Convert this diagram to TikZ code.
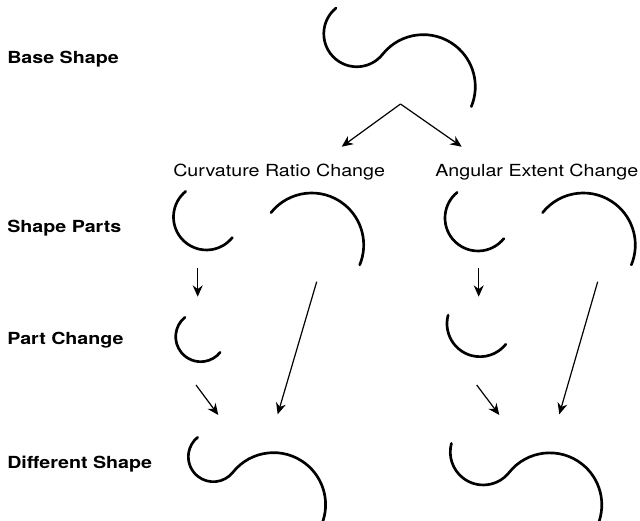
\documentclass[tikz,border=0pt]{standalone}
\usepackage{fontspec}
\newfontfamily\heros{TeX Gyre Heros}[FakeStretch=1.18]
\usepackage{tikz}
\usetikzlibrary{arrows.meta}
\tikzset{
  rowlabel/.style={anchor=base west,inner sep=0pt,font=\heros\fontsize{12.5}{15}\selectfont\bfseries},
  collabel/.style={anchor=base west,inner sep=0pt,font=\heros\fontsize{12.5}{15}\selectfont},
  stroke/.style={line width=2pt,line cap=round},
  myarrow/.style={-{Stealth[length=8.5pt,width=7.5pt]},line width=0.9pt},
}

\begin{document}
\begin{tikzpicture}[x=0.75pt,y=0.75pt]
  \useasboundingbox (0,0) rectangle (640,521);
  % row labels
  \node[rowlabel] (base)  at (7,457.7) {Base Shape};
  \node[rowlabel] (parts) at (7,288.3) {Shape Parts};
  \node[rowlabel] (chg)   at (7,176.5) {Part Change};
  \node[rowlabel] (diff)  at (7,52.7)  {Different Shape};
  % column titles
  \node[collabel] (crc) at (173,344)   {Curvature Ratio Change};
  \node[collabel] (aec) at (435,344.3) {Angular Extent Change};

  % base shape, drawn out from the joint of its two arcs
  \coordinate (bj) at (382.6,466.7);
  \draw[stroke] (bj) arc[start angle=-38.5,end angle=-231,radius=33];
  \draw[stroke] (bj) arc[start angle=141.5,end angle=-22.5,radius=52];

  % shape parts (arc centres)
  \coordinate (lsmall) at (206.5,304);
  \coordinate (lbig)   at (311.7,276);
  \coordinate (rsmall) at (478,303);
  \coordinate (rbig)   at (583.3,276);
  \draw[stroke] (lsmall) ++(129:33) arc[start angle=129,end angle=321.5,radius=33];
  \draw[stroke] (lbig) ++(141.5:52) arc[start angle=141.5,end angle=-22.5,radius=52];
  \draw[stroke] (rsmall) ++(129:33) arc[start angle=129,end angle=321.5,radius=33];
  \draw[stroke] (rbig) ++(141.5:52) arc[start angle=141.5,end angle=-22.5,radius=52];

  % changed parts
  \coordinate (lchg) at (200.7,184.3);
  \coordinate (rchg) at (480,197.3);
  \draw[stroke] (lchg) ++(129:25) arc[start angle=129,end angle=321.5,radius=25];
  \draw[stroke] (rchg) ++(165:33) arc[start angle=165,end angle=321.5,radius=33];

  % resulting shapes
  \coordinate (lj) at (232.9,48.7);
  \coordinate (rj) at (509.1,48.5);
  \draw[stroke] (lj) arc[start angle=-38.5,end angle=-231,radius=25];
  \draw[stroke] (lj) arc[start angle=141.5,end angle=-22.5,radius=52];
  \draw[stroke] (rj) arc[start angle=-38.5,end angle=-195,radius=33];
  \draw[stroke] (rj) arc[start angle=141.5,end angle=-22.5,radius=52];

  % arrow ends
  \coordinate (split) at (400.5,417);
  \coordinate (crcin) at (341.7,374.3);
  \coordinate (aecin) at (461.7,374.3);
  \coordinate (l1a) at (197.7,253);   \coordinate (l1b) at (197.7,224.3);
  \coordinate (l2a) at (196,136);     \coordinate (l2b) at (218.3,106);
  \coordinate (l3a) at (316.7,239.3); \coordinate (l3b) at (277.7,106.7);
  \coordinate (r1a) at (478.7,253);   \coordinate (r1b) at (478.7,224.3);
  \coordinate (r2a) at (476.7,136);   \coordinate (r2b) at (499.3,106);
  \coordinate (r3a) at (597.7,239.3); \coordinate (r3b) at (559.3,106.7);

  \draw[myarrow] (split) -- (crcin);
  \draw[myarrow] (split) -- (aecin);
  \draw[myarrow] (l1a) -- (l1b);
  \draw[myarrow] (l2a) -- (l2b);
  \draw[myarrow] (l3a) -- (l3b);
  \draw[myarrow] (r1a) -- (r1b);
  \draw[myarrow] (r2a) -- (r2b);
  \draw[myarrow] (r3a) -- (r3b);
\end{tikzpicture}
\end{document}
